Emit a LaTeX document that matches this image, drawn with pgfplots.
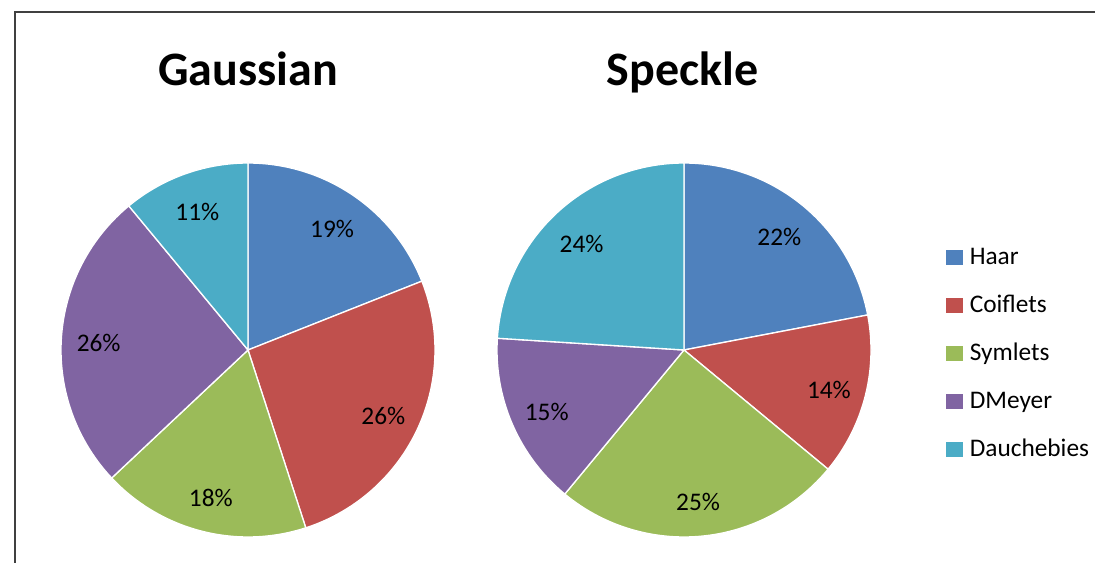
\documentclass[border=0pt]{standalone}
\usepackage{pgfplots}
\usepackage{pgfplotstable}
\pgfplotsset{compat=1.18}
\usepackage{fontspec}
\setmainfont{Carlito}

\definecolor{c0}{HTML}{4F81BD}
\definecolor{c1}{HTML}{C0504D}
\definecolor{c2}{HTML}{9BBB59}
\definecolor{c3}{HTML}{8064A2}
\definecolor{c4}{HTML}{4BACC6}
\definecolor{frame}{HTML}{404040}

\newcommand\pctfont{\fontsize{19}{22}\selectfont}

% share of each wavelet, percent, clockwise from 12 o'clock
\pgfplotstableread{
name val
Haar 19
Coiflets 26
Symlets 18
DMeyer 26
Dauchebies 11
}\gauss
\pgfplotstableread{
name val
Haar 22
Coiflets 14
Symlets 25
DMeyer 15
Dauchebies 24
}\speckle

% draws the wedges of one table and their labels
\newcommand\pie[1]{%
  \def\cum{0}%
  \pgfplotsforeachungrouped \i in {0,...,4}{%
    \pgfplotstablegetelem{\i}{val}\of#1%
    \let\v\pgfplotsretval
    \pgfmathsetmacro\a{90-3.6*(\cum+\v)}%
    \pgfmathsetmacro\b{90-3.6*\cum}%
    \pgfmathsetmacro\m{90-3.6*(\cum+\v/2)}%
    \pgfmathsetmacro\cum{\cum+\v}%
    \edef\temp{%
      \noexpand\addplot[fill=c\i, draw=white, line width=1pt, domain=\a:\b,
        samples=90, forget plot] ({cos(x)},{sin(x)}) -- (0,0) -- cycle;
      \noexpand\node[font=\noexpand\pctfont, yshift=-2pt] at (axis cs:{0.8*cos(\m)},{0.8*sin(\m)}) {\v\noexpand\%};}%
    \temp
  }%
}

\pgfplotsset{
  pie axis/.style={
    anchor=center, scale only axis,
    width=280.5pt, height=280.5pt,
    xmin=-1, xmax=1, ymin=-1, ymax=1,
    hide axis, clip=false,
    title style={font=\bfseries\fontsize{36}{40}\selectfont,
      at={(axis description cs:0.5,1)}, anchor=base, yshift=52pt},
  },
}

\begin{document}
\begin{tikzpicture}[x=0.75pt, y=0.75pt]
\useasboundingbox (0,0) rectangle (1095,563);
\clip (0,0) rectangle (1095,563);
\draw[frame, line width=1.5pt] (15,-20) |- (1120,551);

\begin{axis}[pie axis, at={(186pt,159.75pt)}, title={Gaussian}]
\pie{\gauss}
\end{axis}

\begin{axis}[pie axis, at={(513pt,159.75pt)}, title={Speckle},
  title style={xshift=-1pt},
  legend image code/.code={\fill[#1] (0pt,-5.25pt) rectangle (12pt,5.25pt);},
  legend style={at={(axis description cs:1.2005,0.492)}, anchor=west,
    draw=none, fill=none, inner sep=0pt,
    font=\fontsize{19}{22}\selectfont,
    cells={anchor=west},
    nodes={inner sep=0pt, text height=15pt, text depth=3pt},
    column sep=5.25pt, row sep=18pt},
]
\pie{\speckle}
\addlegendimage{c0}\addlegendentry{Haar}
\addlegendimage{c1}\addlegendentry{Coiflets}
\addlegendimage{c2}\addlegendentry{Symlets}
\addlegendimage{c3}\addlegendentry{DMeyer}
\addlegendimage{c4}\addlegendentry{Dauchebies}
\end{axis}
\end{tikzpicture}
\end{document}
